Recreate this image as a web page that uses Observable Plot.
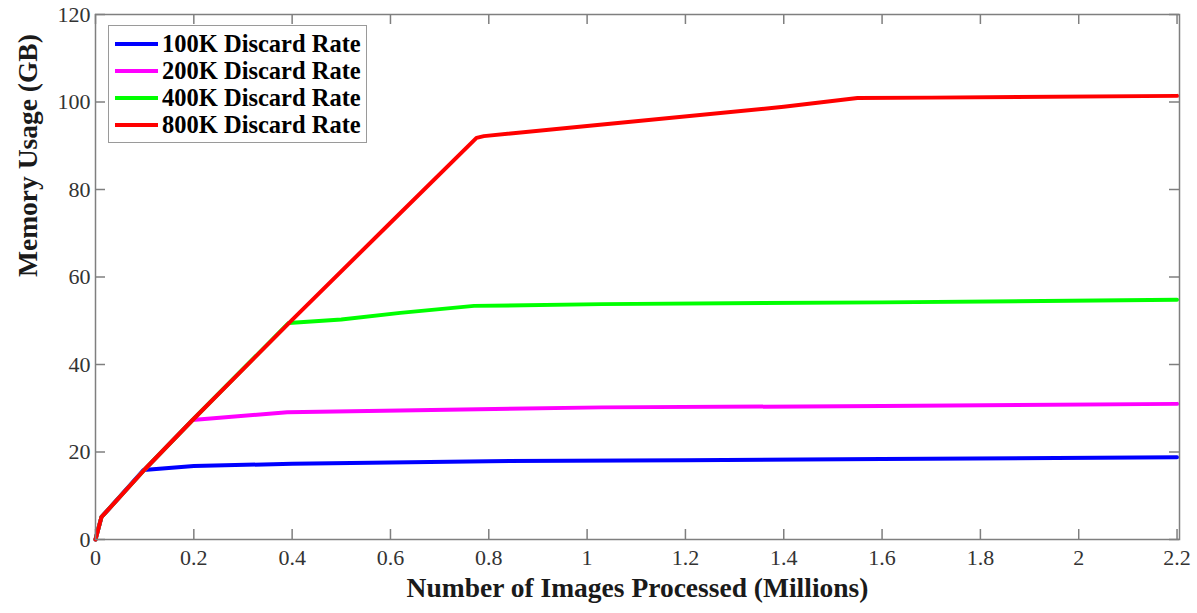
<!DOCTYPE html>
<html>
<head>
<meta charset="utf-8">
<script src="https://cdn.jsdelivr.net/npm/d3@7"></script>
<script src="https://cdn.jsdelivr.net/npm/@observablehq/plot@0.6"></script>
<style>
  html, body { margin: 0; padding: 0; background: #fff; }
  #wrap { position: relative; width: 1197px; height: 613px; font-family: "Liberation Serif", "Times New Roman", serif; }
  #legend { position: absolute; left: 108px; top: 25px; width: 257px; padding: 5px 0 4px 0; border: 1.5px solid #9a9a9a; background: #fff; }
  .row { display: flex; align-items: center; height: 26.8px; }
  .sw { width: 43px; height: 4px; margin-left: 6px; margin-right: 4px; }
  .lab { font-weight: bold; font-size: 24.5px; color: #000; white-space: nowrap; line-height: 26px; }
</style>
</head>
<body>
<div id="wrap"></div>
<script>
// ---- data ----
const seriesNames = ["100K Discard Rate", "200K Discard Rate", "400K Discard Rate", "800K Discard Rate"];
const seriesColors = ["#0000ff", "#ff00ff", "#00ff00", "#ff0000"];

const blueX = [0, 0.012, 0.098, 0.2, 0.4, 0.8, 1.2, 1.6, 2.2];
const blueY = [0, 5.1, 15.9, 16.8, 17.3, 17.9, 18.1, 18.4, 18.8];

const pinkX = [0, 0.012, 0.1, 0.197, 0.39, 0.62, 1.03, 1.6, 2.2];
const pinkY = [0, 5.1, 16.0, 27.3, 29.1, 29.5, 30.2, 30.5, 31.0];

const greenX = [0, 0.012, 0.1, 0.2, 0.393, 0.5, 0.62, 0.77, 1.03, 1.6, 2.2];
const greenY = [0, 5.1, 16.0, 27.6, 49.5, 50.3, 51.8, 53.4, 53.8, 54.2, 54.8];

const redX = [0, 0.012, 0.1, 0.2, 0.4, 0.6, 0.775, 0.79, 1.0, 1.4, 1.55, 1.7, 2.2];
const redY = [0, 5.1, 16.0, 27.6, 50.2, 72.4, 91.8, 92.2, 94.5, 98.9, 100.9, 101.0, 101.4];

const xTicks = [0, 0.2, 0.4, 0.6, 0.8, 1, 1.2, 1.4, 1.6, 1.8, 2, 2.2];
const yTicks = [0, 20, 40, 60, 80, 100, 120];

const xLabel = "Number of Images Processed (Millions)";
const yLabel = "Memory Usage (GB)";

// ---- build ----
const toRows = (xs, ys) => xs.map((x, i) => ({x, y: ys[i]}));
const allSeries = [toRows(blueX, blueY), toRows(pinkX, pinkY), toRows(greenX, greenY), toRows(redX, redY)];

const W = 1197, H = 613, mL = 95, mR = 18, mT = 14, mB = 74;
const frameW = W - mL - mR, frameH = H - mT - mB;
const tickLen = 10;
const xMax = 2.205, yMax = 120;

const axisGray = "#7f7f7f";
const fmt = d => String(+(+d).toFixed(1));
const ident = d => d;

const chart = Plot.plot({
  width: W,
  height: H,
  marginLeft: mL,
  marginRight: mR,
  marginTop: mT,
  marginBottom: mB,
  x: {domain: [0, xMax]},
  y: {domain: [0, yMax]},
  style: {fontFamily: "'Liberation Serif', 'Times New Roman', serif", fontSize: "22px", color: "#333", background: "#fff"},
  marks: [
    // inward ticks on all four sides (length tickLen px)
    Plot.ruleX(xTicks, {x: ident, y1: 0, y2: yMax * tickLen / frameH, stroke: axisGray, strokeWidth: 1.5}),
    Plot.ruleX(xTicks, {x: ident, y1: yMax, y2: yMax - yMax * tickLen / frameH, stroke: axisGray, strokeWidth: 1.5}),
    Plot.ruleY(yTicks, {y: ident, x1: 0, x2: xMax * tickLen / frameW, stroke: axisGray, strokeWidth: 1.5}),
    Plot.ruleY(yTicks, {y: ident, x1: xMax, x2: xMax - xMax * tickLen / frameW, stroke: axisGray, strokeWidth: 1.5}),
    ...allSeries.map((rows, i) => Plot.line(rows, {x: "x", y: "y", stroke: seriesColors[i], strokeWidth: 4, strokeLinejoin: "round", strokeLinecap: "round"})),
    Plot.frame({stroke: axisGray, strokeWidth: 1.5}),
    Plot.axisX(xTicks, {anchor: "bottom", tickSize: 0, tickPadding: 10, tickFormat: fmt, label: null, fill: "#333", fontSize: 22}),
    Plot.axisY(yTicks, {anchor: "left", tickSize: 0, tickPadding: 5, tickFormat: fmt, label: null, fill: "#333", fontSize: 22}),
    Plot.text([xLabel], {frameAnchor: "bottom", dy: 57, fontWeight: "bold", fontSize: 27.5, fill: "#1a1a1a"}),
    Plot.text([yLabel], {frameAnchor: "left", dx: -67, rotate: -90, fontWeight: "bold", fontSize: 27.5, fill: "#1a1a1a"})
  ]
});

const wrap = document.getElementById("wrap");
wrap.appendChild(chart);

const legend = document.createElement("div");
legend.id = "legend";
seriesNames.forEach((name, i) => {
  const row = document.createElement("div");
  row.className = "row";
  const sw = document.createElement("div");
  sw.className = "sw";
  sw.style.background = seriesColors[i];
  const lab = document.createElement("span");
  lab.className = "lab";
  lab.textContent = name;
  row.appendChild(sw);
  row.appendChild(lab);
  legend.appendChild(row);
});
wrap.appendChild(legend);
</script>
</body>
</html>
